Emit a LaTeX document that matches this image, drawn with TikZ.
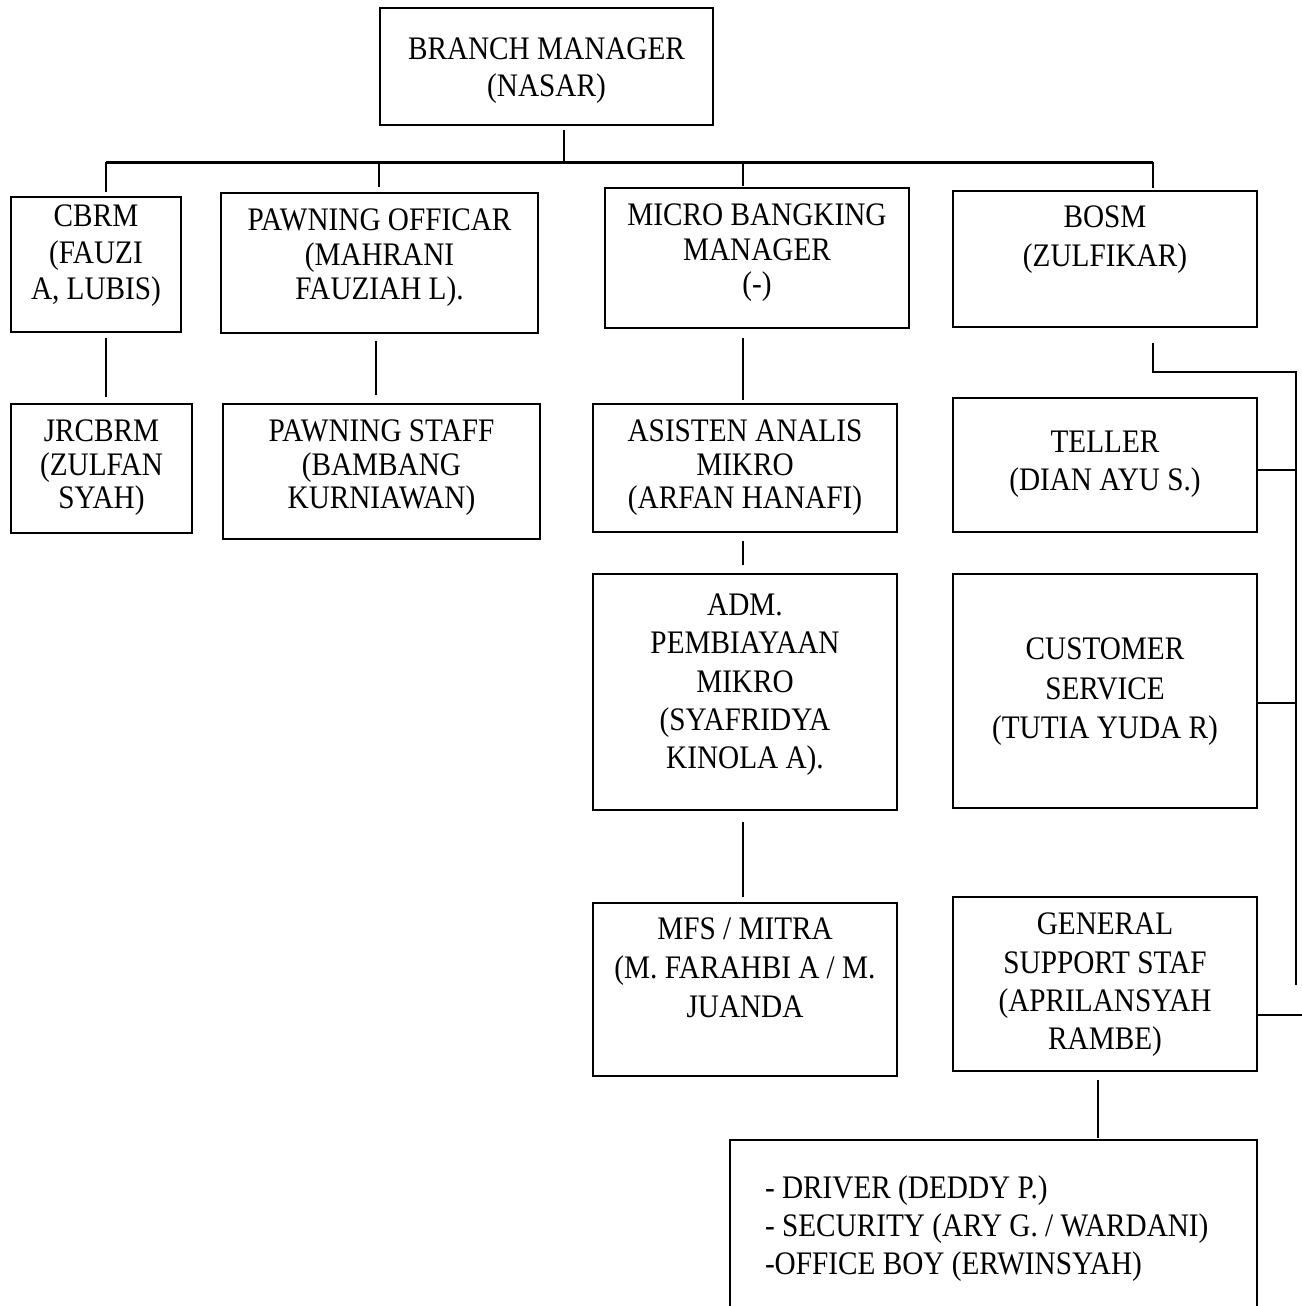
\documentclass[tikz,border=0pt]{standalone}
\usepackage{fontspec}
\setmainfont{Liberation Serif}[FakeStretch=0.89]
\newcommand\orgbox[8]{%
  \node[box] (#1) at (#2,#3) {\parbox[t][\dimexpr0.02cm*(#5-#3)\relax][t]{\dimexpr0.02cm*(#4-#2)\relax}{\baselineskip=\dimexpr0.002cm*#7\relax\centering\vspace*{\dimexpr0.02cm*#6\relax}#8\par}};}
\begin{document}
\begin{tikzpicture}[x=0.02cm, y=-0.02cm,
  box/.style={draw, line width=0.9pt, inner sep=0pt, outer sep=0pt, anchor=north west, font=\fontsize{18.7pt}{21.3pt}\selectfont},
  conn/.style={line width=0.8pt},
  bar/.style={line width=1.7pt},
  brk/.style={line width=1.1pt}]
\useasboundingbox (0,0) rectangle (1302,1306);
\clip (0,0) rectangle (1302,1306);

\orgbox{bm}{380}{8}{713}{125}{30}{370}{BRANCH MANAGER\\(NASAR)}
\orgbox{cbrm}{11}{197}{181}{332}{8}{365}{CBRM\\(FAUZI\\A, LUBIS)}
\orgbox{po}{221}{193}{538}{333}{16}{345}{PAWNING OFFICAR\\(MAHRANI\\FAUZIAH L).}
\orgbox{mbm}{605}{188}{909}{328}{16}{345}{MICRO BANGKING\\MANAGER\\(-)}
\orgbox{bosm}{953}{191}{1257}{327}{15}{390}{BOSM\\(ZULFIKAR)}
\orgbox{jr}{11}{404}{192}{533}{16}{335}{JRCBRM\\(ZULFAN\\SYAH)}
\orgbox{ps}{223}{404}{540}{539}{16}{335}{PAWNING STAFF\\(BAMBANG\\KURNIAWAN)}
\orgbox{aam}{593}{404}{897}{532}{16}{335}{ASISTEN ANALIS\\MIKRO\\(ARFAN HANAFI)}
\orgbox{tel}{953}{398}{1257}{532}{33}{380}{TELLER\\(DIAN AYU S.)}
\orgbox{adm}{593}{574}{897}{810}{20}{383}{ADM.\\PEMBIAYAAN\\MIKRO\\(SYAFRIDYA\\KINOLA A).}
\orgbox{cs}{953}{574}{1257}{808}{64}{395}{CUSTOMER\\SERVICE\\(TUTIA YUDA R)}
\orgbox{mfs}{593}{903}{897}{1076}{15}{390}{MFS / MITRA\\(M. FARAHBI A / M.\\JUANDA}
\orgbox{gss}{953}{897}{1257}{1071}{16}{383}{GENERAL\\SUPPORT STAF\\(APRILANSYAH\\RAMBE)}
\node[box] (staff) at (730,1140) {\parbox[t][\dimexpr0.02cm*200\relax][t]{\dimexpr0.02cm*527\relax}{\baselineskip=\dimexpr0.002cm*380\relax\raggedright\leftskip=\dimexpr0.02cm*35\relax\vspace*{\dimexpr0.02cm*36\relax}- DRIVER (DEDDY P.)\\- SECURITY (ARY G. / WARDANI)\\-OFFICE BOY (ERWINSYAH)\par}};

\coordinate (jBM) at (564,162);
\coordinate (jL) at (106,162);
\coordinate (jP) at (379,162);
\coordinate (jM) at (743,162);
\coordinate (jR) at (1153,162);
\coordinate (xP) at (376,0);
\coordinate (xG) at (1098,0);

\draw[conn, shorten <=0.1cm] (bm.south -| jBM) -- (jBM);
\draw[bar] (jL) -- (jR);
\draw[conn, shorten >=0.1cm] (jL) -- (jL |- cbrm.north);
\draw[conn, shorten >=0.12cm] (jP) -- (jP |- po.north);
\draw[conn, shorten >=0.04cm] (jM) -- (jM |- mbm.north);
\draw[brk, shorten >=0.06cm] (jR) -- (jR |- bosm.north);

\draw[conn, shorten <=0.12cm, shorten >=0.14cm] (cbrm.south -| jL) -- (jr.north -| jL);
\draw[conn, shorten <=0.16cm, shorten >=0.18cm] (po.south -| xP) -- (ps.north -| xP);
\draw[conn, shorten <=0.2cm, shorten >=0.08cm] (mbm.south -| jM) -- (aam.north -| jM);
\draw[conn, shorten <=0.18cm, shorten >=0.18cm] (aam.south -| jM) -- (adm.north -| jM);
\draw[conn, shorten <=0.24cm, shorten >=0.12cm] (adm.south -| jM) -- (mfs.north -| jM);
\draw[conn, shorten <=0.18cm, shorten >=0.04cm] (gss.south -| xG) -- (staff.north -| xG);

\coordinate (sTop) at (1296,372);
\coordinate (sBot) at (1296,985);
\coordinate (sT) at (1296,470);
\coordinate (sC) at (1296,703);
\coordinate (sG) at (1302,1015);
\draw[brk, shorten <=0.32cm] (bosm.south -| jR) -- (jR |- sTop) -- (sTop) -- (sBot);
\draw[brk] (tel.east |- sT) -- (sT);
\draw[brk] (cs.east |- sC) -- (sC);
\draw[brk] (gss.east |- sG) -- (sG);
\end{tikzpicture}
\end{document}
